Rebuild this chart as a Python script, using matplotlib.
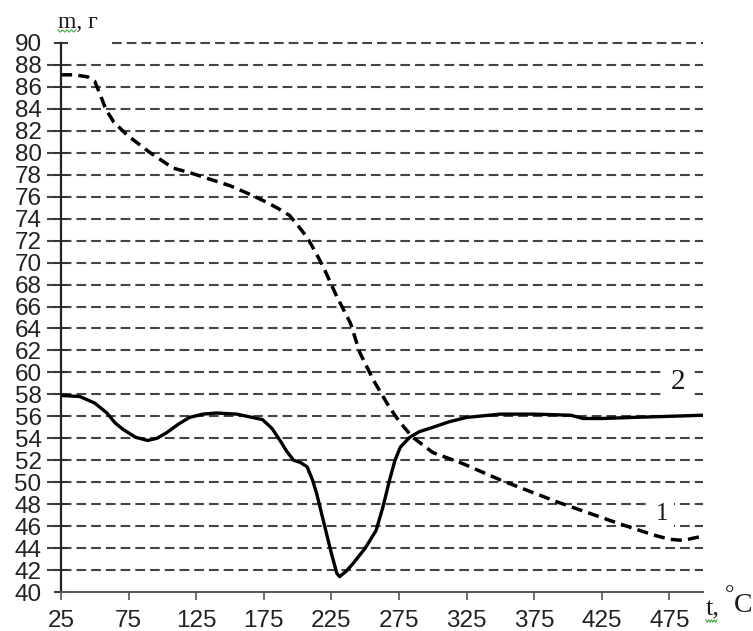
import matplotlib
matplotlib.use("Agg")
import matplotlib.pyplot as plt
import numpy as np

plt.rcParams['lines.scale_dashes'] = False

# Curve 1 (dashed): mass vs temperature
t1 = [25, 35, 45, 50, 54, 58, 64, 74, 91, 108, 120, 135, 150, 165, 177, 186,
      194, 200, 207, 213, 219, 229, 239, 246, 256, 268, 276, 285, 300, 322,
      350, 392, 436, 463, 475, 485, 500]
m1 = [87.1, 87.1, 86.9, 86.5, 85.3, 84.0, 82.8, 81.6, 80.0, 78.6, 78.2, 77.6,
      77.0, 76.2, 75.5, 74.9, 74.3, 73.4, 72.3, 71.0, 69.6, 66.9, 64.5, 61.8,
      59.3, 56.8, 55.4, 54.1, 52.7, 51.7, 50.2, 48.2, 46.3, 45.2, 44.8, 44.7,
      45.1]

# Curve 2 (solid)
t2 = [25, 39, 50, 59, 65, 71, 80, 89, 96, 103, 112, 120, 130, 140, 155, 174,
      181, 187, 192, 197, 202, 207, 211, 214, 220, 225, 229, 231, 236, 241,
      250, 258, 263, 268, 272, 276, 283, 290, 300, 312, 325, 350, 375, 402,
      411, 425, 448, 475, 500]
m2 = [57.9, 57.8, 57.2, 56.3, 55.4, 54.8, 54.1, 53.8, 54.0, 54.5, 55.3, 55.9,
      56.2, 56.3, 56.2, 55.7, 54.9, 53.8, 52.8, 52.0, 51.8, 51.4, 50.2, 49.0,
      46.0, 43.5, 41.7, 41.4, 41.9, 42.6, 44.0, 45.6, 47.7, 50.2, 52.0, 53.2,
      54.1, 54.6, 55.0, 55.5, 55.9, 56.2, 56.2, 56.1, 55.8, 55.8, 55.9, 56.0,
      56.1]

xticks = [25, 75, 125, 175, 225, 275, 325, 375, 425, 475]
yticks = list(range(40, 91, 2))
grid_levels = list(range(42, 89, 2))

fig = plt.figure(figsize=(7.53, 6.31), dpi=100)
ax = fig.add_axes([0.081, 0.0618, 0.853, 0.8701])

ax.set_xlim(25, 500)
ax.set_ylim(40, 90)

grid_kw = dict(color='#444444', lw=1.5, linestyle=(0, (7, 3.6)), zorder=1)
for lv in grid_levels:
    ax.plot([25 - 10, 500], [lv, lv], clip_on=False, **grid_kw)
ax.plot([63, 500], [90, 90], clip_on=False, **grid_kw)

ax.plot(t1, m1, color='black', lw=2.5, linestyle=(0, (8, 4.5)), zorder=3,
        solid_capstyle='butt')
ax.plot(t2, m2, color='black', lw=2.4, zorder=3)

for s in ['top', 'right']:
    ax.spines[s].set_visible(False)
ax.spines['left'].set_color('#222222')
ax.spines['left'].set_linewidth(1.6)
ax.spines['bottom'].set_color('#555555')
ax.spines['bottom'].set_linewidth(1.4)

ax.set_xticks(xticks)
ax.set_yticks(yticks)
ax.set_xticklabels([str(v) for v in xticks])
ax.set_yticklabels([str(v) for v in yticks])
ax.tick_params(axis='y', direction='inout', length=10, width=1.4,
               color='#333333', pad=9, labelsize=17.5)
ax.tick_params(axis='x', direction='out', length=6, width=1.2,
               color='#555555', pad=7, labelsize=17.5)
for lab in ax.get_xticklabels() + ax.get_yticklabels():
    lab.set_fontfamily('Liberation Sans')
    lab.set_color('#222222')

box = dict(facecolor='white', edgecolor='none', pad=4)
ax.text(481.5, 59.1, '2', fontsize=21, family='Liberation Serif',
        ha='center', va='center', zorder=2.5, bbox=box, color='#1a1a1a')
ax.text(469.5, 47.1, '1', fontsize=18, family='Liberation Serif',
        ha='center', va='center', zorder=2.5, bbox=box, color='#1a1a1a')

fig.text(58 / 753, 1 - 22 / 631, 'm, г', fontsize=17, family='Liberation Serif',
         ha='left', va='center', color='#1a1a1a')
fig.text(706 / 753, 1 - 609 / 631, 't,', fontsize=19, family='Liberation Serif',
         ha='left', va='center', color='#1a1a1a')
fig.text(725 / 753, 1 - 596 / 631, '°', fontsize=17, family='Liberation Serif',
         ha='left', va='center', color='#1a1a1a')
fig.text(734 / 753, 1 - 606 / 631, 'C', fontsize=20, family='Liberation Serif',
         ha='left', va='center', color='#1a1a1a')

# spell-check squiggles under "m" and "t"
def squiggle(x0, x1, y):
    xs = np.linspace(x0, x1, 9)
    ys = [y + (1.2 if i % 2 else -1.2) for i in range(len(xs))]
    fig.add_artist(plt.Line2D(xs / 753, 1 - np.array(ys) / 631,
                              color='#44aa44', lw=0.8))

squiggle(58, 76, 31)
squiggle(706, 717, 621)

fig.savefig('out.png', dpi=100)
